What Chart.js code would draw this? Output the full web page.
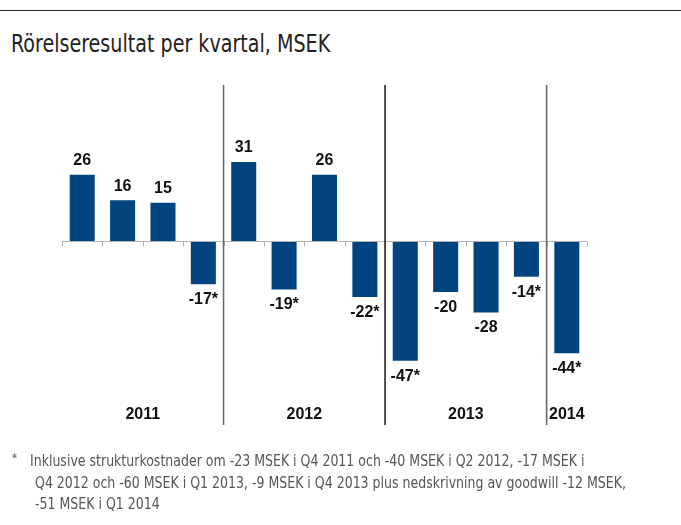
<!DOCTYPE html>
<html>
<head>
<meta charset="utf-8">
<script src="https://cdn.jsdelivr.net/npm/chart.js@4.4.1/dist/chart.umd.min.js"></script>
<style>
  html, body { margin: 0; padding: 0; background: #fff; }
  body { width: 681px; height: 525px; position: relative; overflow: hidden; }
  .topline { position: absolute; left: 0; top: 10px; width: 681px; height: 0; border-top: 1.5px solid #222; }
  .title { position: absolute; left: 11px; top: 31px; font-family: "Liberation Sans Narrow", "DejaVu Sans Condensed", sans-serif; font-stretch: condensed; font-size: 25px; line-height: 25px; color: #222; white-space: nowrap; transform: scaleX(0.85); transform-origin: left top; }
  .note { position: absolute; font-family: "Liberation Sans Narrow", "DejaVu Sans Condensed", sans-serif; font-stretch: condensed; font-size: 15px; line-height: 15px; color: #555; white-space: nowrap; transform: scaleX(0.93); transform-origin: left top; }
  #wrap { position: absolute; left: 0; top: 0; width: 681px; height: 525px; }
</style>
</head>
<body>
<div class="topline"></div>
<div class="title">Rörelseresultat per kvartal, MSEK</div>
<div id="wrap"><canvas id="resultChart"></canvas></div>
<div class="note" style="left:12px; top:451px; font-size:12px;">*</div>
<div class="note" style="left:30px; top:454px;">Inklusive strukturkostnader om -23 MSEK i Q4 2011 och -40 MSEK i Q2 2012, -17 MSEK i</div>
<div class="note" style="left:35px; top:476px;">Q4 2012 och -60 MSEK i Q1 2013, -9 MSEK i Q4 2013 plus nedskrivning av goodwill -12 MSEK,</div>
<div class="note" style="left:35px; top:497px;">-51 MSEK i Q1 2014</div>
<script>
const quarters = ['Q1 2011', 'Q2 2011', 'Q3 2011', 'Q4 2011',
                  'Q1 2012', 'Q2 2012', 'Q3 2012', 'Q4 2012',
                  'Q1 2013', 'Q2 2013', 'Q3 2013', 'Q4 2013',
                  'Q1 2014'];
const results = [26, 16, 15, -17, 31, -19, 26, -22, -47, -20, -28, -14, -44];
// quarters with restructuring costs (footnote *)
const starred = [false, false, false, true, false, true, false, true, true, false, false, true, true];
const years = ['2011', '2012', '2013', '2014'];
const quartersPerYear = [4, 4, 4, 1];

const barColor = '#02447f';

// zero line, ticks, year separators, year labels and value labels
const decorations = {
  id: 'decorations',
  afterDatasetsDraw(chart) {
    const ctx = chart.ctx;
    const y = chart.scales.y;
    const area = chart.chartArea;
    const step = (area.right - area.left) / quarters.length;
    const zeroY = Math.round(y.getPixelForValue(0)) + 0.5;

    ctx.save();
    // zero axis with tick marks at category borders
    ctx.strokeStyle = '#b4b4b4';
    ctx.lineWidth = 1;
    ctx.beginPath();
    ctx.moveTo(area.left, zeroY);
    ctx.lineTo(area.right, zeroY);
    for (let i = 0; i <= quarters.length; i++) {
      const tx = Math.round(area.left + i * step) + 0.5;
      ctx.moveTo(tx, zeroY);
      ctx.lineTo(tx, zeroY + 5);
    }
    ctx.stroke();

    // year separators
    const sepColors = ['#6a6a6a', '#222222', '#6a6a6a'];
    let idx = 0;
    quartersPerYear.forEach((n, i) => {
      const start = idx;
      idx += n;
      if (i < quartersPerYear.length - 1) {
        const sx = area.left + idx * step;
        ctx.strokeStyle = sepColors[i];
        ctx.lineWidth = 1.6;
        ctx.beginPath();
        ctx.moveTo(sx, 85);
        ctx.lineTo(sx, 425);
        ctx.stroke();
      }
      ctx.fillStyle = '#111';
      ctx.font = 'bold 16px "Liberation Sans", Arial, sans-serif';
      ctx.textAlign = 'center';
      ctx.textBaseline = 'alphabetic';
      ctx.fillText(years[i], area.left + (start + n / 2) * step, 419);
    });

    // value labels
    const meta = chart.getDatasetMeta(0);
    ctx.font = 'bold 16px "Liberation Sans", Arial, sans-serif';
    ctx.fillStyle = '#111';
    ctx.textAlign = 'center';
    meta.data.forEach((bar, i) => {
      const v = results[i];
      const label = String(v) + (starred[i] ? '*' : '');
      if (v >= 0) {
        ctx.fillText(label, bar.x, bar.y - 9.5);
      } else {
        ctx.fillText(label, bar.x, bar.y + 20);
      }
    });
    ctx.restore();
  }
};

new Chart(document.getElementById('resultChart'), {
  type: 'bar',
  data: {
    labels: quarters,
    datasets: [{
      data: results,
      backgroundColor: barColor,
      borderWidth: 0,
      barPercentage: 0.62,
      categoryPercentage: 1.0
    }]
  },
  options: {
    responsive: true,
    maintainAspectRatio: false,
    animation: false,
    layout: {
      padding: { left: 62, right: 94, top: 139, bottom: 131 }
    },
    scales: {
      x: { display: false },
      y: { display: false, min: -60, max: 40 }
    },
    plugins: {
      legend: { display: false },
      tooltip: { enabled: false }
    }
  },
  plugins: [decorations]
});
</script>
</body>
</html>
